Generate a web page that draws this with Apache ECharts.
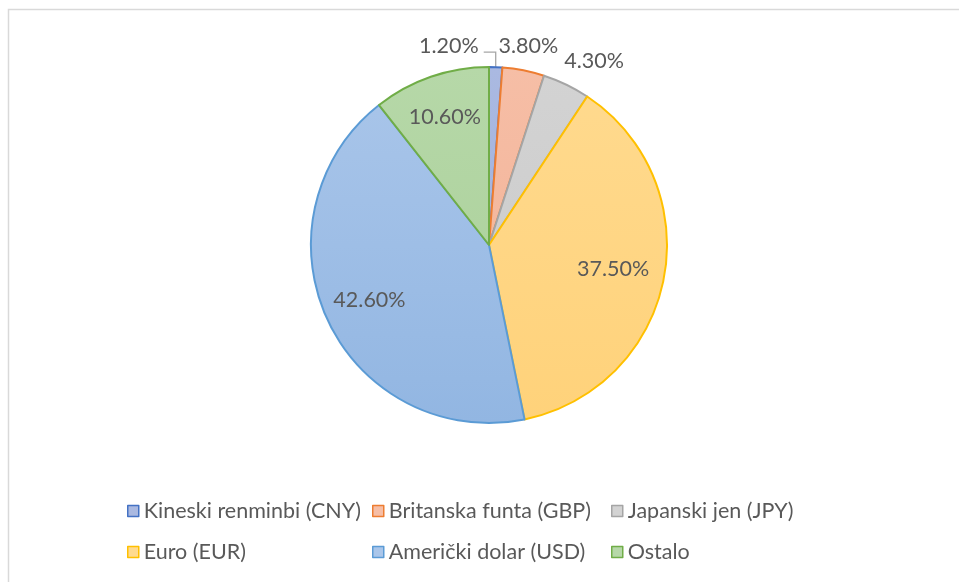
<!DOCTYPE html>
<html>
<head>
<meta charset="utf-8">
<script src="https://cdn.jsdelivr.net/npm/echarts@6/dist/echarts.min.js"></script>
<style>
  html, body { margin: 0; padding: 0; background: #fff; }
  #chart { width: 959px; height: 582px; }
</style>
</head>
<body>
<div id="chart"></div>
<script>
// data
var categories = ['Kineski renminbi (CNY)', 'Britanska funta (GBP)', 'Japanski jen (JPY)',
                  'Euro (EUR)', 'Američki dolar (USD)', 'Ostalo'];
var shares = [1.2, 3.8, 4.3, 37.5, 42.6, 10.6];
var shareLabels = ['1.20%', '3.80%', '4.30%', '37.50%', '42.60%', '10.60%'];

// styles
var fillTop    = ['#aab9e1', '#f6bea6', '#d3d3d3', '#ffda8f', '#aac6ea', '#b6d8a8'];
var fillBottom = ['#9caedc', '#f2b094', '#c9c9c9', '#ffd27a', '#92b6e2', '#a9cf98'];
var borders    = ['#4472c4', '#ed7d31', '#a5a5a5', '#ffc000', '#5b9bd5', '#70ad47'];
var labelDist  = [1.0, 1.14, 1.19, 0.71, 0.74, 0.76];
var labelShift = [0, 0, 4, 0, 0, 0];

var CX = 489, CY = 245, R = 178;
var FONT = 'Lato';
var FSIZE = 21.5;

function midAngle(i) {
  var total = 0, before = 0;
  for (var k = 0; k < shares.length; k++) {
    total += shares[k];
    if (k < i) before += shares[k];
  }
  return (before + shares[i] / 2) / total * 360 + labelShift[i];
}

var pieData = categories.map(function (name, i) {
  var item = {
    name: name,
    value: shares[i],
    itemStyle: {
      color: new echarts.graphic.LinearGradient(0, CY - R, 0, CY + R, [
        { offset: 0, color: fillTop[i] },
        { offset: 1, color: fillBottom[i] }
      ], true),
      borderColor: borders[i],
      borderWidth: 2
    }
  };
  if (i === 0) {
    item.label = { position: 'outside' };
    item.labelLine = { show: true, lineStyle: { color: '#a6a6a6', width: 1.3 } };
  }
  return item;
});

function legendItems(idx) {
  return idx.map(function (i) {
    return {
      name: categories[i],
      itemStyle: { color: fillTop[i], borderColor: borders[i], borderWidth: 1.5 }
    };
  });
}

function legendCol(idx, left) {
  return {
    orient: 'vertical',
    left: left,
    top: 495,
    itemGap: 19,
    itemWidth: 11,
    itemHeight: 11,
    icon: 'rect',
    selectedMode: false,
    data: legendItems(idx),
    textStyle: { color: '#595959', fontSize: FSIZE, fontFamily: FONT }
  };
}

var option = {
  backgroundColor: '#fff',
  animation: false,
  graphic: [{
    type: 'rect',
    shape: { x: 8.5, y: 9.5, width: 2000, height: 2000 },
    style: { fill: 'none', stroke: '#d9d9d9', lineWidth: 1.5 },
    silent: true
  }],
  legend: [
    legendCol([0, 3], 122),
    legendCol([1, 4], 367),
    legendCol([2, 5], 606)
  ],
  series: [{
    type: 'pie',
    center: [CX, CY],
    radius: R,
    startAngle: 90,
    clockwise: true,
    avoidLabelOverlap: false,
    data: pieData,
    label: {
      show: true,
      position: 'inside',
      color: '#595959',
      fontSize: FSIZE,
      fontFamily: FONT,
      formatter: function (p) { return shareLabels[p.dataIndex]; }
    },
    labelLine: { show: false },
    labelLayout: function (p) {
      var i = p.dataIndex;
      var a = midAngle(i) * Math.PI / 180;
      var sx = Math.sin(a), sy = -Math.cos(a);
      if (i === 0) {
        var ex = CX + R * sx, ey = CY + R * sy;
        return {
          x: ex - 17, y: ey - 21, align: 'right', verticalAlign: 'middle',
          labelLinePoints: [[ex, ey], [ex, ey - 15], [ex - 12, ey - 15]]
        };
      }
      var d = R * labelDist[i];
      return { x: CX + d * sx, y: CY + d * sy, align: 'center', verticalAlign: 'middle' };
    }
  }]
};

var myChart = echarts.init(document.getElementById('chart'));
myChart.setOption(option);
window.addEventListener('resize', function () { myChart.resize(); });
</script>
</body>
</html>
